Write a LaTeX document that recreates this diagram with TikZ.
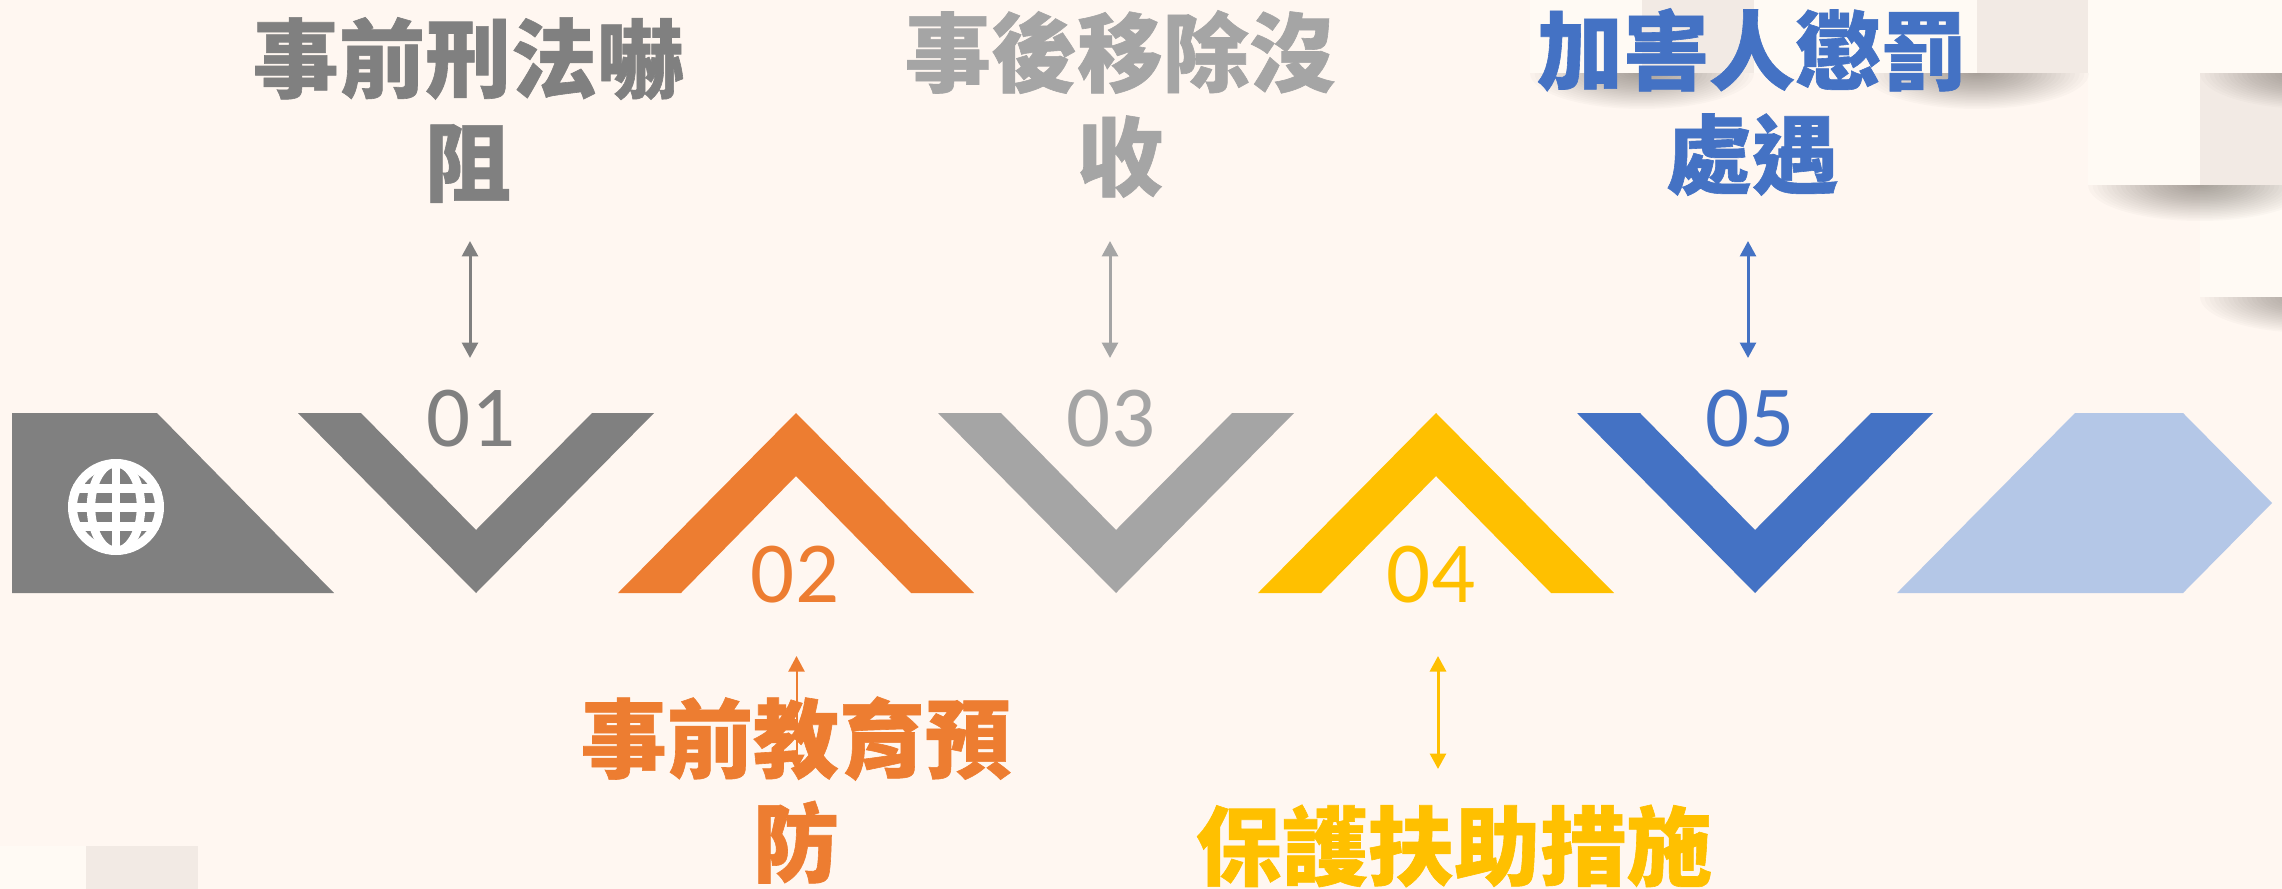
\documentclass[tikz,border=0pt]{standalone}
\usepackage{fontspec}
\setmainfont{Carlito}
\newfontfamily\cjk[BoldFeatures={FakeBold=0.7}]{Noto Sans CJK TC}
\usetikzlibrary{arrows.meta}
\definecolor{paper}{HTML}{FFF7F1}
\definecolor{tile}{HTML}{F2EAE4}
\definecolor{palet}{HTML}{FFFAF4}
\definecolor{dusk}{HTML}{2E2820}
\definecolor{cgray}{HTML}{808080}
\definecolor{corange}{HTML}{ED7D31}
\definecolor{csilver}{HTML}{A5A5A5}
\definecolor{cyellow}{HTML}{FFC000}
\definecolor{cblue}{HTML}{4472C4}
\definecolor{cpale}{HTML}{B4C7E7}
\tikzset{
  heading/.style={inner sep=0pt,align=center,font=\cjk\bfseries\fontsize{49}{59.2}\selectfont},
  number/.style={inner sep=0pt,anchor=base,font=\fontsize{49.5}{60}\selectfont},
  link/.style={line width=0.06cm,{Triangle[width=0.32cm,length=0.31cm]}-{Triangle[width=0.32cm,length=0.31cm]}}
}
\begin{document}
\begin{tikzpicture}[x=0.02cm,y=-0.02cm]
      \useasboundingbox (0,0) rectangle (2282,889);
      \fill[paper] (0,0) rectangle (2282,889);
      % tiles
      \fill[palet] (1530,0) rectangle (1642,73);
      \fill[palet] (1754,0) rectangle (1977,73);
      \fill[palet] (2088,0) rectangle (2282,73);
      \fill[palet] (2088,73) rectangle (2200,185);
      \fill[palet] (2200,185) rectangle (2282,297);
      \fill[palet] (0,846) rectangle (86,889);
      \fill[tile] (1642,0) rectangle (1754,73);
      \fill[tile] (1977,0) rectangle (2088,73);
      \fill[tile] (2200,73) rectangle (2282,185);
      \fill[tile] (86,846) rectangle (198,889);
      % shadows
      \foreach \sx/\sy in {1642/73,1977/73,2312/73,2200/185,2312/297}{
        \begin{scope}
          \clip (\sx-112,\sy) rectangle (\sx+112,\sy+36);
          \foreach \k in {1,...,24}
            \fill[dusk,opacity=0.018] (\sx,\sy) ellipse ({112*\k/24} and {36*\k/24});
        \end{scope}
      }
      % band
      \fill[cgray] (12,413) -- (157,413) -- (334,593) -- (12,593) -- cycle;
      \fill[cgray] (298,413) -- (361,413) -- (476,530) -- (592,413) -- (654,413) -- (476,593) -- cycle;
      \fill[corange] (618,593) -- (796,413) -- (974,593) -- (911,593) -- (796,476) -- (681,593) -- cycle;
      \fill[csilver] (938,413) -- (1001,413) -- (1116,530) -- (1232,413) -- (1294,413) -- (1116,593) -- cycle;
      \fill[cyellow] (1258,593) -- (1436,413) -- (1614,593) -- (1551,593) -- (1436,476) -- (1321,593) -- cycle;
      \fill[cblue] (1577,413) -- (1640,413) -- (1755,530) -- (1871,413) -- (1933,413) -- (1755,593) -- cycle;
      \fill[cpale] (1897,593) -- (2075,413) -- (2183,413) -- (2272,503) -- (2183,593) -- cycle;
      % globe
      \begin{scope}
        \clip (116,507) circle (48);
        \draw[white,line width=0.2cm] (116,507) circle (44);
        \draw[white,line width=0.17cm] (116,507) ellipse (25 and 44);
        \draw[white,line width=0.17cm] (116,463) -- (116,551);
        \draw[white,line width=0.18cm] (68,488) -- (164,488);
        \draw[white,line width=0.18cm] (68,507) -- (164,507);
        \draw[white,line width=0.18cm] (68,526) -- (164,526);
      \end{scope}
      % arrow ends
      \coordinate (top01) at (470,241);
      \coordinate (bot01) at (470,358);
      \coordinate (top02) at (796.5,656);
      \coordinate (bot02) at (796.5,770);
      \coordinate (top03) at (1110,241);
      \coordinate (bot03) at (1110,358);
      \coordinate (top04) at (1438,656);
      \coordinate (bot04) at (1438,769);
      \coordinate (top05) at (1748,241);
      \coordinate (bot05) at (1748,358);
      \draw[link,cgray] (top01) -- (bot01);
      \draw[link,corange,line width=0.04cm] (top02) -- (bot02);
      \draw[link,csilver] (top03) -- (bot03);
      \draw[link,cyellow] (top04) -- (bot04);
      \draw[link,cblue] (top05) -- (bot05);
      %
      \node[number,text=cgray] (num01) at (471,446) {01};
      \node[number,text=corange] (num02) at (795,602) {02};
      \node[number,text=csilver] (num03) at (1111,446) {03};
      \node[number,text=cyellow] (num04) at (1431,602) {04};
      \node[number,text=cblue] (num05) at (1750,446) {05};
      %
      \node[heading,text=cgray] (title01) at (468,110) {事前刑法嚇\\阻};
      \node[heading,text=corange] (title02) at (796,790) {事前教育預\\防};
      \node[heading,text=csilver] (title03) at (1120,104) {事後移除沒\\收};
      \node[heading,text=cyellow] (title04) at (1454,846) {保護扶助措施};
      \node[heading,text=cblue] (title05) at (1752,102) {加害人懲罰\\處遇};
    \end{tikzpicture}
\end{document}
